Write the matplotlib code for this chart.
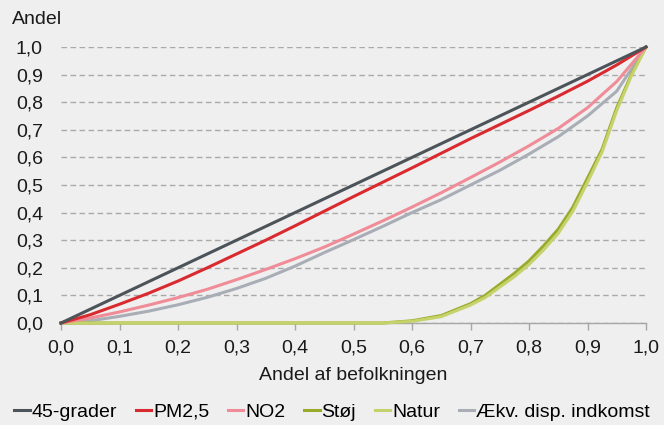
import matplotlib
matplotlib.use("Agg")
import matplotlib.pyplot as plt
from matplotlib.ticker import FuncFormatter

# andel af befolkningen
x = [0, 0.05, 0.1, 0.15, 0.2, 0.25, 0.3, 0.35, 0.4, 0.45, 0.5,
     0.55, 0.6, 0.65, 0.7, 0.75, 0.8, 0.85, 0.9, 0.95, 1.0]
grader45 = x
pm25 = [0, 0.03, 0.068, 0.108, 0.152, 0.2, 0.25, 0.3, 0.352, 0.405, 0.458,
        0.51, 0.562, 0.615, 0.668, 0.719, 0.77, 0.822, 0.876, 0.935, 1.0]
no2 = [0, 0.018, 0.04, 0.065, 0.092, 0.122, 0.157, 0.194, 0.233, 0.275, 0.322,
       0.37, 0.42, 0.472, 0.527, 0.583, 0.642, 0.705, 0.78, 0.875, 1.0]
indkomst = [0, 0.008, 0.024, 0.043, 0.066, 0.093, 0.125, 0.162, 0.206, 0.255, 0.302,
            0.35, 0.4, 0.447, 0.5, 0.553, 0.612, 0.675, 0.75, 0.84, 1.0]

x_groen = [0, 0.55, 0.6, 0.65, 0.7, 0.725, 0.75, 0.775, 0.8, 0.825, 0.85,
           0.875, 0.9, 0.925, 0.95, 0.975, 1.0]
stoej = [0, 0, 0.008, 0.027, 0.07, 0.1, 0.14, 0.18, 0.225, 0.28, 0.34,
         0.42, 0.525, 0.63, 0.78, 0.9, 1.0]
natur = [0, 0, 0.006, 0.023, 0.065, 0.092, 0.13, 0.168, 0.212, 0.265, 0.325,
         0.405, 0.51, 0.62, 0.77, 0.895, 1.0]

ticks = [i / 10 for i in range(11)]

plt.rcParams['font.family'] = ['Liberation Sans', 'DejaVu Sans']
bg = "#efefef"
fs = 14

fig = plt.figure(figsize=(6.64, 4.25), dpi=100, facecolor=bg)
ax = fig.add_axes([61 / 664, 1 - 323 / 425, 585 / 664, 276 / 425], facecolor=bg)

lw = 2.2
ax.plot(x, grader45, color="#4d5459", lw=lw, label="45-grader", zorder=6)
ax.plot(x, pm25, color="#d92b2f", lw=lw, label="PM2,5", zorder=5)
ax.plot(x, no2, color="#ef8c98", lw=lw, label="NO2", zorder=4)
ax.plot(x_groen, stoej, color="#9aab2c", lw=lw, label="Støj", zorder=3)
ax.plot(x_groen, natur, color="#c6d36c", lw=lw, label="Natur", zorder=3)
ax.plot(x, indkomst, color="#a9aeb6", lw=lw, label="Ækv. disp. indkomst", zorder=2)

ax.set_xlim(0, 1)
ax.set_ylim(0, 1)
ax.set_xticks(ticks)
ax.set_yticks(ticks)
fmt = FuncFormatter(lambda v, p: f"{v:.1f}".replace(".", ","))
ax.xaxis.set_major_formatter(fmt)
ax.yaxis.set_major_formatter(fmt)

for s in ["top", "right", "left"]:
    ax.spines[s].set_visible(False)
ax.spines["bottom"].set_color("#a6a6a6")
ax.spines["bottom"].set_linewidth(1.0)

ax.yaxis.grid(True, color="#a9a9a9", linestyle=(0, (4, 2.5)), linewidth=1.0)
ax.set_axisbelow(True)
ax.tick_params(axis="y", length=0, pad=13, labelsize=fs, labelcolor="#1a1a1a")
ax.tick_params(axis="x", length=5, width=1.0, color="#a6a6a6", direction="out",
               pad=7, labelsize=fs, labelcolor="#1a1a1a")
for ln in ax.get_lines():
    ln.set_clip_on(False)

fig.text(12 / 664, 1 - 19 / 425, "Andel", fontsize=fs, va="center", color="#1a1a1a")
fig.text(353 / 664, 1 - 375 / 425, "Andel af befolkningen", fontsize=fs,
         ha="center", va="center", color="#1a1a1a")

fig.legend(loc="center", bbox_to_anchor=(0.5, 1 - 412 / 425), ncol=6, frameon=False,
           fontsize=fs, handlelength=0.8, handletextpad=0.1, columnspacing=0.95,
           borderaxespad=0)

fig.savefig("out.png", dpi=100, facecolor=bg)
